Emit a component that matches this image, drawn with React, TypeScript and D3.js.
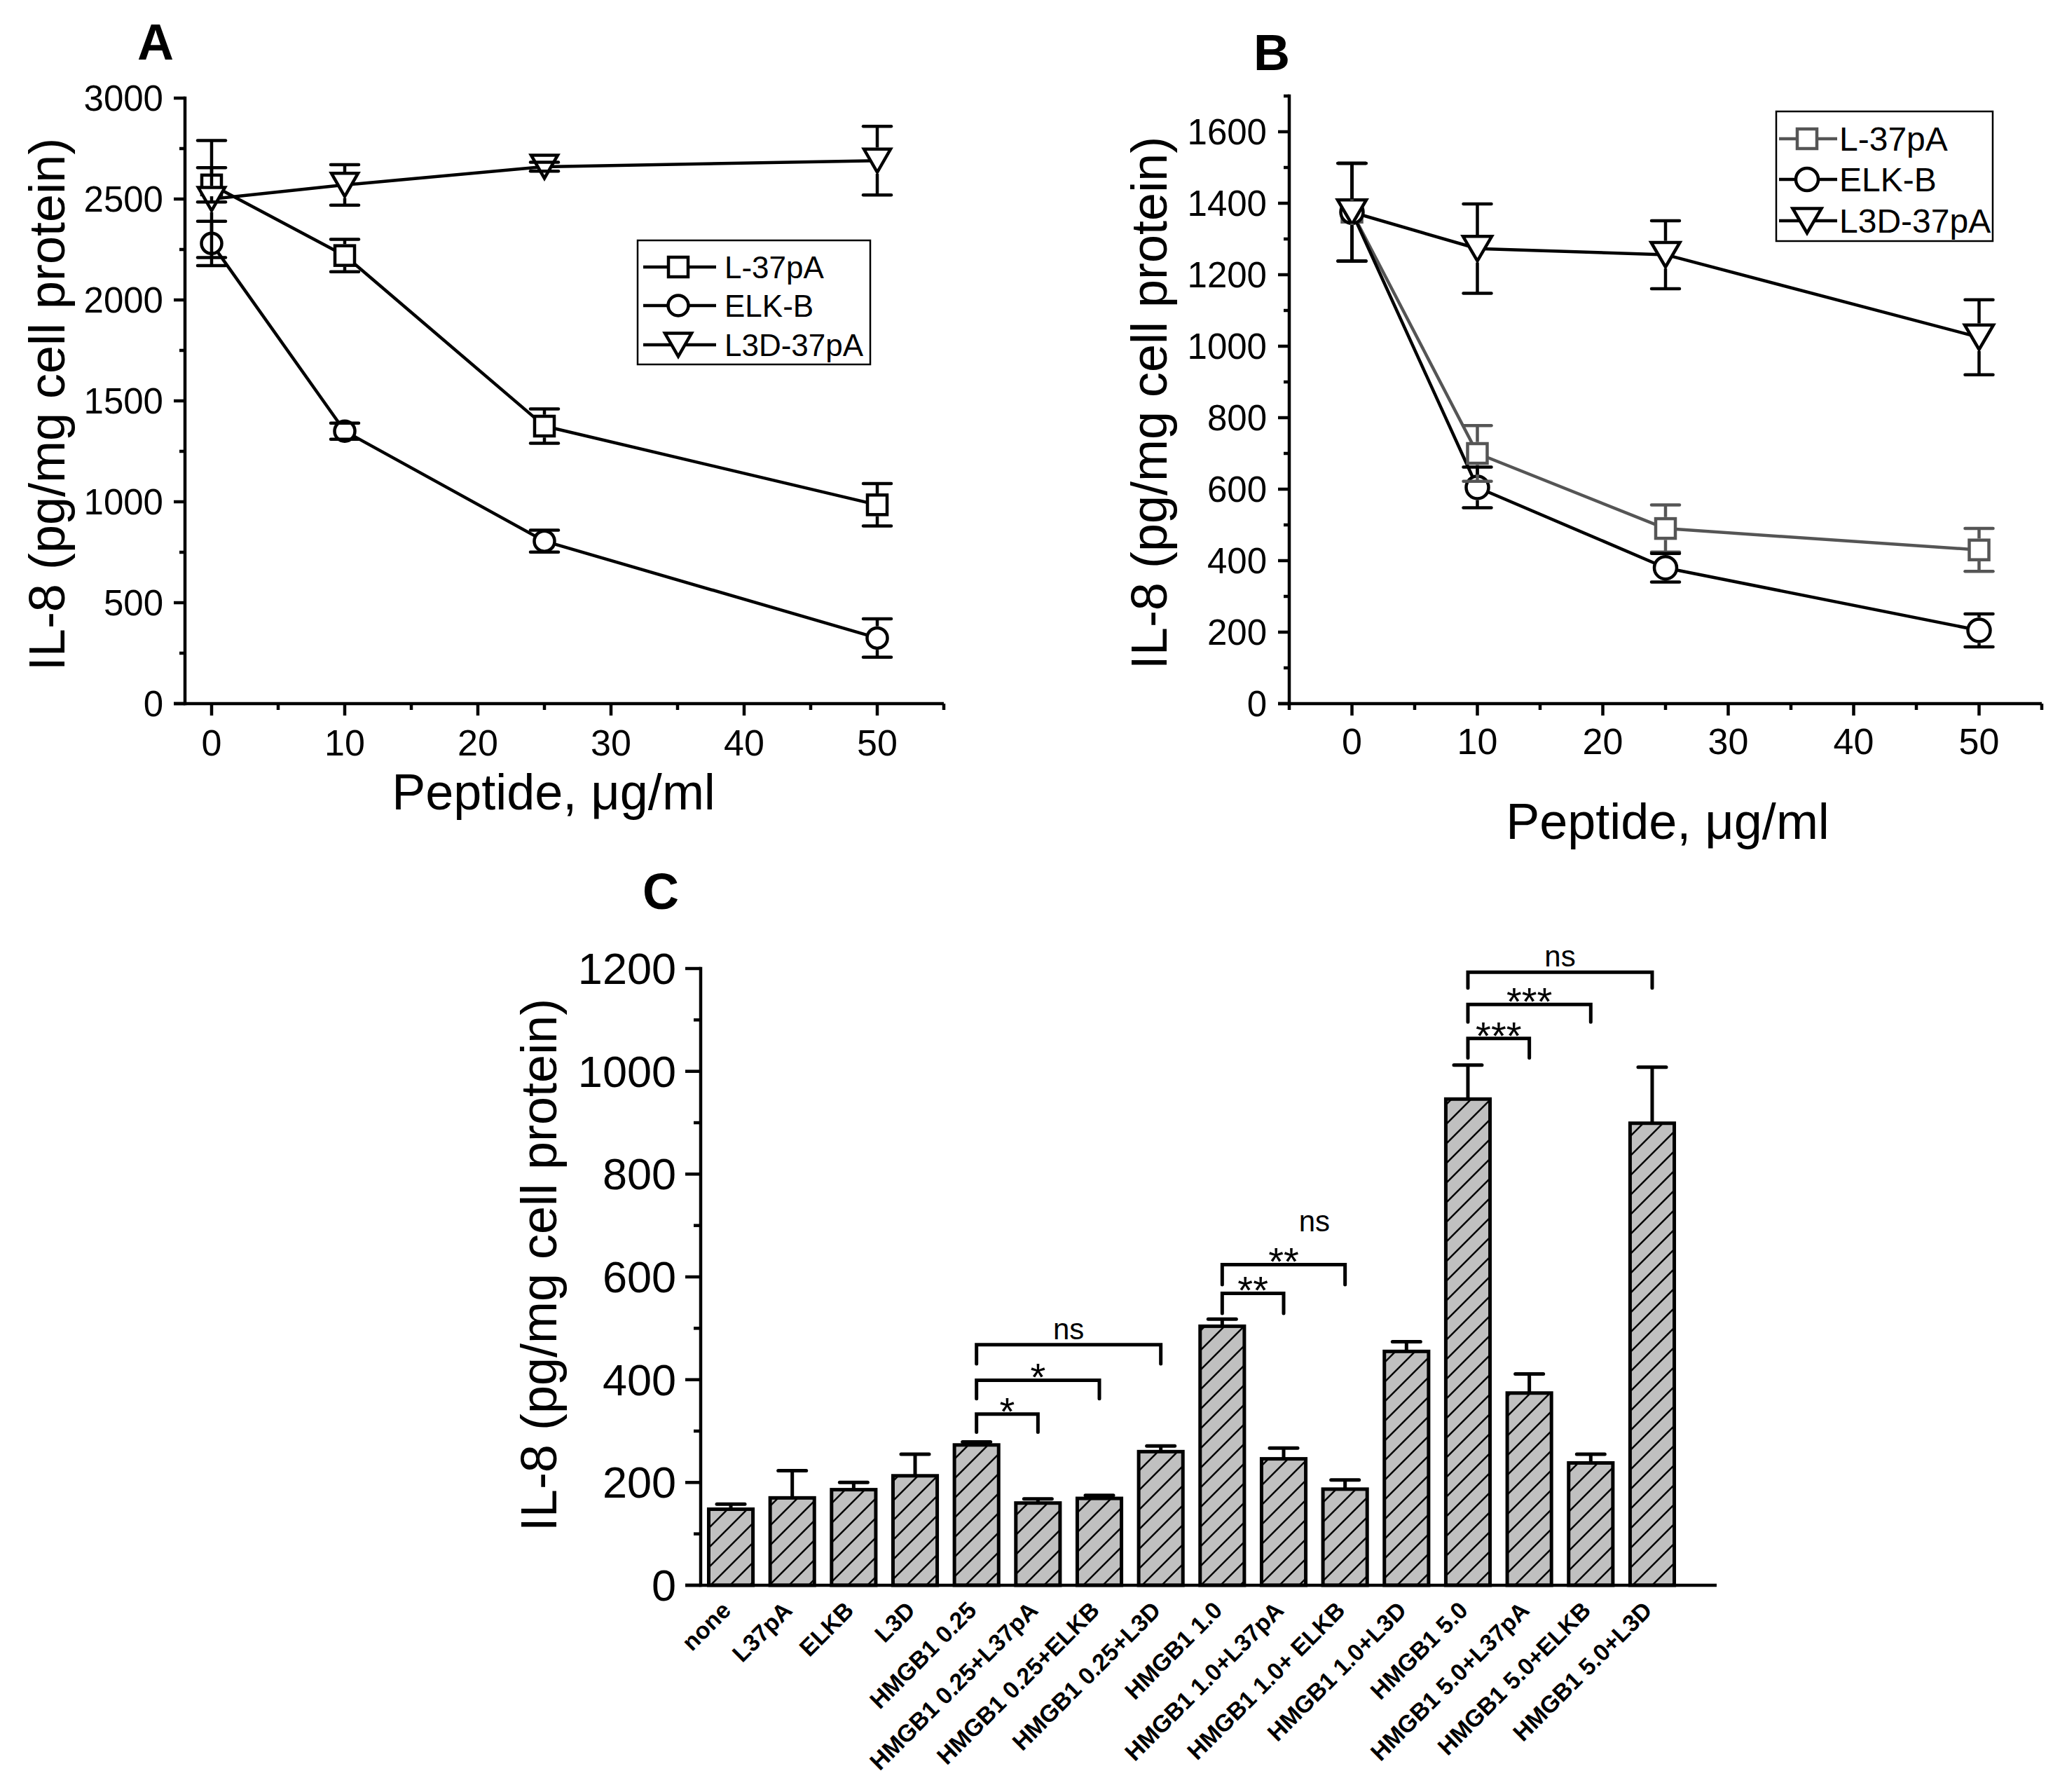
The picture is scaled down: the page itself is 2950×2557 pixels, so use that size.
import React from "react";
import * as d3 from "d3";

// ---------- DATA ----------
const doses = [0, 10, 25, 50];
const seriesNames = ["L-37pA", "ELK-B", "L3D-37pA"];

// Panel A
const aL37 = [2570, 2220, 1375, 985];
const aL37Err = [85, 80, 85, 105];
const aELK = [2280, 1350, 805, 325];
const aELKErr = [110, 40, 54, 95];
const aL3D = [2500, 2570, 2660, 2690];
const aL3DErr = [290, 100, 22, 170];

// Panel B
const bL37 = [1375, 700, 490, 430];
const bL37Err = [137, 78, 66, 60];
const bELK = [1375, 605, 380, 205];
const bELKErr = [137, 57, 40, 46];
const bL3D = [1375, 1273, 1256, 1025];
const bL3DErr = [137, 125, 95, 105];

const aYTicks = [0, 500, 1000, 1500, 2000, 2500, 3000];
const aYMinor = [250, 750, 1250, 1750, 2250, 2750];
const bYTicks = [0, 200, 400, 600, 800, 1000, 1200, 1400, 1600];
const bYMinor = [100, 300, 500, 700, 900, 1100, 1300, 1500, 1700];
const xTicks = [0, 10, 20, 30, 40, 50];
const aXMinor = [5, 15, 25, 35, 45, 55];
const bXMinor = [-5, 5, 15, 25, 35, 45, 55];

// Panel C
const cCategories = [
  "none", "L37pA", "ELKB", "L3D",
  "HMGB1 0.25", "HMGB1 0.25+L37pA", "HMGB1 0.25+ELKB", "HMGB1 0.25+L3D",
  "HMGB1 1.0", "HMGB1 1.0+L37pA", "HMGB1 1.0+ ELKB", "HMGB1 1.0+L3D",
  "HMGB1 5.0", "HMGB1 5.0+L37pA", "HMGB1 5.0+ELKB", "HMGB1 5.0+L3D",
];
const cValues = [148, 170, 186, 213, 273, 160, 169, 260, 504, 246, 187, 455, 946, 374, 238, 899];
const cErrors = [10, 53, 14, 42, 6, 8, 6, 11, 14, 21, 18, 19, 66, 37, 17, 109];
const cYTicks = [0, 200, 400, 600, 800, 1000, 1200];
const cYMinor = [100, 300, 500, 700, 900, 1100];

// significance brackets
const bracketFrom = [4, 4, 4, 8, 8, 12, 12, 12];
const bracketTo = [5, 6, 7, 9, 10, 13, 14, 15];
const bracketLevel = [333, 399, 468, 568, 624, 1064, 1130, 1193];
const bracketLeg = [298, 363, 431, 529, 585, 1026, 1096, 1162];
const bracketLabel = ["*", "*", "ns", "**", "**", "***", "***", "ns"];
// free-standing annotation (between bars 10 and 11)
const freeNoteText = "ns";
const freeNoteBetween = [9, 10];
const freeNoteLevel = 689;

// ---------- STYLE ----------
const FONT = "'Liberation Sans', Arial, Helvetica, sans-serif";
const AX = 4.5;

type Shape = "square" | "circle" | "tri";
interface MSize { sq: number; r: number; triW: number; triH: number; sw: number; cap: number }

function halfH(shape: Shape, s: MSize) {
  if (shape === "square") return s.sq / 2;
  if (shape === "circle") return s.r;
  return s.triH / 2;
}

function Marker({ shape, cx, cy, s, color }: { shape: Shape; cx: number; cy: number; s: MSize; color: string }) {
  if (shape === "square")
    return <rect x={cx - s.sq / 2} y={cy - s.sq / 2} width={s.sq} height={s.sq} fill="#fff" stroke={color} strokeWidth={s.sw} />;
  if (shape === "circle") return <circle cx={cx} cy={cy} r={s.r} fill="#fff" stroke={color} strokeWidth={s.sw} />;
  const w = s.triW, h = s.triH;
  return (
    <path
      d={`M${cx - w / 2},${cy - h / 2}L${cx + w / 2},${cy - h / 2}L${cx},${cy + h / 2}Z`}
      fill="#fff"
      stroke={color}
      strokeWidth={s.sw}
      strokeLinejoin="miter"
    />
  );
}

interface Series { name: string; values: number[]; errors: number[]; shape: Shape; color: string }

interface LinePanelCfg {
  x: d3.ScaleLinear<number, number>;
  y: d3.ScaleLinear<number, number>;
  yTicks: number[];
  yMinor: number[];
  xMinor: number[];
  yLabelRight: number;
  xLabelBaseline: number;
  tickFont: number;
  series: Series[];
  size: MSize;
  yTitleX: number;
  yTitleY: number;
  xTitleX: number;
  xTitleY: number;
  letter: string;
  letterX: number;
  letterY: number;
  legend: { x: number; y: number; w: number; h: number; rows: number[]; lineX0: number; lineX1: number; markerX: number; textX: number; font: number };
}

function LinePanel({ cfg }: { cfg: LinePanelCfg }) {
  const { x, y, size } = cfg;
  const [x0, x1] = x.range();
  const [y0, y1] = y.range();
  const line = d3
    .line<number>()
    .x((_, i) => x(doses[i]))
    .y((d) => y(d));
  return (
    <g fontFamily={FONT}>
      {/* axes */}
      <line x1={x0} x2={x0} y1={y0} y2={y1} stroke="#000" strokeWidth={AX} strokeLinecap="square" />
      <line x1={x0 - 16} x2={x1} y1={y0} y2={y0} stroke="#000" strokeWidth={AX} />
      {cfg.yTicks.map((t) => (
        <g key={"yt" + t}>
          <line x1={x0 - 16} x2={x0} y1={y(t)} y2={y(t)} stroke="#000" strokeWidth={AX} />
          <text x={cfg.yLabelRight} y={y(t) + cfg.tickFont * 0.36} textAnchor="end" fontSize={cfg.tickFont}>
            {t}
          </text>
        </g>
      ))}
      {cfg.yMinor.map((t) => (
        <line key={"ym" + t} x1={x0 - 8} x2={x0} y1={y(t)} y2={y(t)} stroke="#000" strokeWidth={AX} />
      ))}
      {xTicks.map((t) => (
        <g key={"xt" + t}>
          <line x1={x(t)} x2={x(t)} y1={y0} y2={y0 + 17} stroke="#000" strokeWidth={AX} />
          <text x={x(t)} y={cfg.xLabelBaseline} textAnchor="middle" fontSize={cfg.tickFont + 1}>
            {t}
          </text>
        </g>
      ))}
      {cfg.xMinor.map((t) => (
        <line key={"xm" + t} x1={x(t)} x2={x(t)} y1={y0} y2={y0 + 9} stroke="#000" strokeWidth={AX} />
      ))}
      {/* titles */}
      <text transform={`translate(${cfg.yTitleX},${cfg.yTitleY}) rotate(-90)`} textAnchor="middle" fontSize={72}>
        IL-8 (pg/mg cell protein)
      </text>
      <text x={cfg.xTitleX} y={cfg.xTitleY} textAnchor="middle" fontSize={72}>
        Peptide, μg/ml
      </text>
      <text x={cfg.letterX} y={cfg.letterY} textAnchor="middle" fontSize={72} fontWeight="bold">
        {cfg.letter}
      </text>
      {/* lines */}
      {cfg.series.map((s) => (
        <path key={"l" + s.name} d={line(s.values) || ""} fill="none" stroke={s.color} strokeWidth={4.5} strokeLinejoin="round" />
      ))}
      {/* markers */}
      {cfg.series.map((s) =>
        s.values.map((v, i) => <Marker key={"m" + s.name + i} shape={s.shape} cx={x(doses[i])} cy={y(v)} s={size} color={s.color} />)
      )}
      {/* error bars */}
      {cfg.series.map((s) =>
        s.values.map((v, i) => {
          const cx = x(doses[i]);
          const yc = y(v);
          const yT = y(v + s.errors[i]);
          const yB = y(v - s.errors[i]);
          const g = halfH(s.shape, size) + size.sw / 2;
          return (
            <g key={"e" + s.name + i} stroke={s.color} strokeWidth={4.5}>
              {yc - g > yT && <line x1={cx} x2={cx} y1={yT} y2={yc - g} />}
              {yc + g < yB && <line x1={cx} x2={cx} y1={yc + g} y2={yB} />}
              <line x1={cx - size.cap / 2} x2={cx + size.cap / 2} y1={yT} y2={yT} strokeLinecap="round" />
              <line x1={cx - size.cap / 2} x2={cx + size.cap / 2} y1={yB} y2={yB} strokeLinecap="round" />
            </g>
          );
        })
      )}
      {/* legend */}
      <rect x={cfg.legend.x} y={cfg.legend.y} width={cfg.legend.w} height={cfg.legend.h} fill="#fff" stroke="#000" strokeWidth={2.5} />
      {cfg.series.map((s, i) => {
        const ry = cfg.legend.rows[i];
        return (
          <g key={"lg" + s.name}>
            <line x1={cfg.legend.lineX0} x2={cfg.legend.lineX1} y1={ry} y2={ry} stroke={s.color} strokeWidth={4.5} />
            <Marker shape={s.shape} cx={cfg.legend.markerX} cy={ry} s={size} color={s.color} />
            <text x={cfg.legend.textX} y={ry + cfg.legend.font * 0.36} fontSize={cfg.legend.font}>
              {s.name}
            </text>
          </g>
        );
      })}
    </g>
  );
}

function BarPanel() {
  const y = d3.scaleLinear().domain([0, 1200]).range([2262, 1382]);
  const x = d3.scaleBand<string>().domain(cCategories).range([999.2, 2401.8]).paddingInner(0.28).paddingOuter(0.14);
  const axX = 1000;
  const bw = x.bandwidth();
  const cx = (i: number) => (x(cCategories[i]) || 0) + bw / 2;
  const y0 = y(0);
  return (
    <g fontFamily={FONT}>
      <defs>
        <pattern id="hatch" patternUnits="userSpaceOnUse" width={28} height={28}>
          <rect width={28} height={28} fill="#c0c0c0" />
          <path d="M0,28L28,0M-7,7L7,-7M21,35L35,21" stroke="#000" strokeWidth={2.5} />
        </pattern>
      </defs>
      <text x={943} y={1297} textAnchor="middle" fontSize={72} fontWeight="bold">
        C
      </text>
      <text transform={`translate(794,1805) rotate(-90)`} textAnchor="middle" fontSize={72}>
        IL-8 (pg/mg cell protein)
      </text>
      {/* bars */}
      {cValues.map((v, i) => (
        <rect key={"b" + i} x={cx(i) - bw / 2} y={y(v)} width={bw} height={y0 - y(v)} fill="url(#hatch)" stroke="#000" strokeWidth={5} />
      ))}
      {/* error bars (upper) */}
      {cValues.map((v, i) => (
        <g key={"be" + i} stroke="#000" strokeWidth={5}>
          <line x1={cx(i)} x2={cx(i)} y1={y(v + cErrors[i])} y2={y(v)} />
          <line x1={cx(i) - 20} x2={cx(i) + 20} y1={y(v + cErrors[i])} y2={y(v + cErrors[i])} strokeLinecap="round" />
        </g>
      ))}
      {/* axes */}
      <line x1={axX} x2={axX} y1={y0} y2={y(1200)} stroke="#000" strokeWidth={AX} strokeLinecap="square" />
      <line x1={axX - 22} x2={2450} y1={y0} y2={y0} stroke="#000" strokeWidth={AX} />
      {cYTicks.map((t) => (
        <g key={"cy" + t}>
          <line x1={axX - 22} x2={axX} y1={y(t)} y2={y(t)} stroke="#000" strokeWidth={AX} />
          <text x={965} y={y(t) + 22} textAnchor="end" fontSize={63}>
            {t}
          </text>
        </g>
      ))}
      {cYMinor.map((t) => (
        <line key={"cm" + t} x1={axX - 10} x2={axX} y1={y(t)} y2={y(t)} stroke="#000" strokeWidth={AX} />
      ))}
      {/* category labels */}
      {cCategories.map((c, i) => (
        <text
          key={"cl" + i}
          transform={`translate(${cx(i) + 2},${y0 + 38}) rotate(-45)`}
          textAnchor="end"
          fontSize={34}
          fontWeight="bold"
        >
          {c}
        </text>
      ))}
      {/* brackets */}
      {bracketFrom.map((f, k) => {
        const xa = cx(f);
        const xb = cx(bracketTo[k]);
        const yl = y(bracketLevel[k]);
        const yg = y(bracketLeg[k]);
        const lab = bracketLabel[k];
        const isStar = lab.indexOf("*") >= 0;
        return (
          <g key={"br" + k}>
            <path d={`M${xa},${yg}L${xa},${yl}L${xb},${yl}L${xb},${yg}`} fill="none" stroke="#000" strokeWidth={5} strokeLinecap="round" />
            <text x={(xa + xb) / 2} y={isStar ? yl + 15 : yl - 8} textAnchor="middle" fontSize={isStar ? 56 : 42}>
              {lab}
            </text>
          </g>
        );
      })}
      <text x={(cx(freeNoteBetween[0]) + cx(freeNoteBetween[1])) / 2} y={y(freeNoteLevel)} textAnchor="middle" fontSize={42}>
        {freeNoteText}
      </text>
    </g>
  );
}

export default function App() {
  const panelA: LinePanelCfg = {
    x: d3.scaleLinear().domain([-2, 55]).range([264, 1347]),
    y: d3.scaleLinear().domain([0, 3000]).range([1004, 140]),
    yTicks: aYTicks,
    yMinor: aYMinor,
    xMinor: aXMinor,
    yLabelRight: 233,
    xLabelBaseline: 1078,
    tickFont: 51,
    series: [
      { name: seriesNames[0], values: aL37, errors: aL37Err, shape: "square", color: "#000" },
      { name: seriesNames[1], values: aELK, errors: aELKErr, shape: "circle", color: "#000" },
      { name: seriesNames[2], values: aL3D, errors: aL3DErr, shape: "tri", color: "#000" },
    ],
    size: { sq: 28, r: 14.5, triW: 38, triH: 33, sw: 4.5, cap: 40 },
    yTitleX: 92,
    yTitleY: 577,
    xTitleX: 790,
    xTitleY: 1155,
    letter: "A",
    letterX: 222,
    letterY: 85,
    legend: { x: 910, y: 343, w: 332, h: 177, rows: [381, 436, 492], lineX0: 918, lineX1: 1022, markerX: 968, textX: 1034, font: 44 },
  };
  const panelB: LinePanelCfg = {
    x: d3.scaleLinear().domain([-5, 55]).range([1840, 2914]),
    y: d3.scaleLinear().domain([0, 1700]).range([1004, 137]),
    yTicks: bYTicks,
    yMinor: bYMinor,
    xMinor: bXMinor,
    yLabelRight: 1808,
    xLabelBaseline: 1076,
    tickFont: 51,
    series: [
      { name: seriesNames[0], values: bL37, errors: bL37Err, shape: "square", color: "#555" },
      { name: seriesNames[1], values: bELK, errors: bELKErr, shape: "circle", color: "#000" },
      { name: seriesNames[2], values: bL3D, errors: bL3DErr, shape: "tri", color: "#000" },
    ],
    size: { sq: 28, r: 16, triW: 41, triH: 35, sw: 4.5, cap: 40 },
    yTitleX: 1665,
    yTitleY: 575,
    xTitleX: 2380,
    xTitleY: 1197,
    letter: "B",
    letterX: 1815,
    letterY: 100,
    legend: { x: 2535, y: 159, w: 309, h: 185, rows: [198, 256, 315], lineX0: 2539, lineX1: 2622, markerX: 2579, textX: 2625, font: 48 },
  };
  return (
    <svg width={2950} height={2557} style={{ position: "absolute", left: 0, top: 0, background: "#fff" }}>
      <rect width={2950} height={2557} fill="#fff" />
      <LinePanel cfg={panelA} />
      <LinePanel cfg={panelB} />
      <BarPanel />
    </svg>
  );
}
